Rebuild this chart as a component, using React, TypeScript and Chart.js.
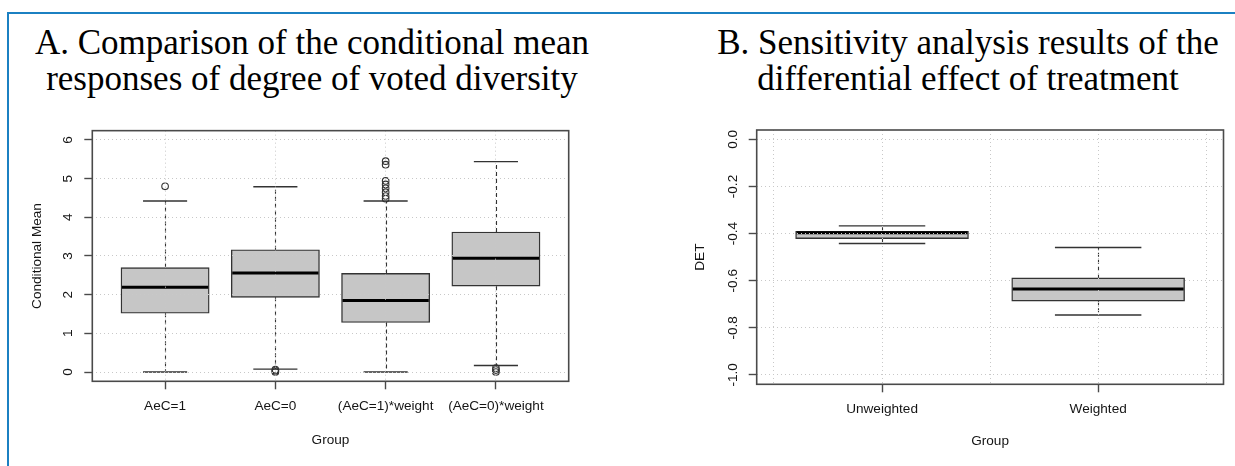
import React, { useEffect, useRef } from 'react';
import { Chart, registerables } from 'chart.js';

Chart.register(...registerables);

const SANS = '"Liberation Sans", Arial, Helvetica, sans-serif';
const SERIF = '"Liberation Serif", "Times New Roman", serif';

// ---------- Panel A: conditional mean responses ----------
const groupsA = ['AeC=1', 'AeC=0', '(AeC=1)*weight', '(AeC=0)*weight'];
const positionsA = [1, 2, 3, 4];
const lowerWhiskerA = [0.0, 0.075, 0.0, 0.17];
const q1A = [1.52, 1.93, 1.28, 2.22];
const medianA = [2.19, 2.56, 1.85, 2.94];
const q3A = [2.7, 3.16, 2.55, 3.62];
const upperWhiskerA = [4.42, 4.79, 4.42, 5.44];
const outliersA = [
  [4.8],
  [0.0, 0.03, 0.06],
  [4.48, 4.55, 4.65, 4.75, 4.85, 4.94, 5.36, 5.45],
  [0.0, 0.05, 0.1],
];
const yTicksA = [0, 1, 2, 3, 4, 5, 6];
const yRangeA = [-0.24, 6.24];
const xRangeA = [0.34, 4.66];

// ---------- Panel B: sensitivity analysis (DET) ----------
const groupsB = ['Unweighted', 'Weighted'];
const positionsB = [1, 2];
const lowerWhiskerB = [-0.442, -0.746];
const q1B = [-0.421, -0.687];
const medianB = [-0.396, -0.635];
const q3B = [-0.39, -0.588];
const upperWhiskerB = [-0.367, -0.459];
const outliersB: number[][] = [[], []];
const yTicksB = [0, -0.2, -0.4, -0.6, -0.8, -1.0];
const xGridB = [0.5, 1, 1.5, 2, 2.5];
const yRangeB = [-1.04, 0.04];
const xRangeB = [0.42, 2.58];

const BOXWEX = 0.8;
const STAPLE = 0.4;

type BoxSpec = {
  positions: number[];
  lo: number[];
  q1: number[];
  med: number[];
  q3: number[];
  hi: number[];
};

function boxPlugin(spec: BoxSpec) {
  return {
    id: 'boxExtras',
    beforeDatasetsDraw(chart: any) {
      const { ctx } = chart;
      const x = chart.scales.x;
      const y = chart.scales.y;
      ctx.save();
      spec.positions.forEach((p, i) => {
        const px = Math.round(x.getPixelForValue(p)) + 0.5;
        ctx.strokeStyle = '#333';
        ctx.lineWidth = 1.1;
        ctx.setLineDash([4, 3]);
        ctx.beginPath();
        ctx.moveTo(px, y.getPixelForValue(spec.q3[i]));
        ctx.lineTo(px, y.getPixelForValue(spec.hi[i]));
        ctx.moveTo(px, y.getPixelForValue(spec.q1[i]));
        ctx.lineTo(px, y.getPixelForValue(spec.lo[i]));
        ctx.stroke();
        ctx.setLineDash([]);
        const xl = x.getPixelForValue(p - STAPLE / 2);
        const xr = x.getPixelForValue(p + STAPLE / 2);
        ctx.lineWidth = 1.4;
        ctx.strokeStyle = '#333';
        ctx.beginPath();
        ctx.moveTo(xl, y.getPixelForValue(spec.hi[i]));
        ctx.lineTo(xr, y.getPixelForValue(spec.hi[i]));
        ctx.moveTo(xl, y.getPixelForValue(spec.lo[i]));
        ctx.lineTo(xr, y.getPixelForValue(spec.lo[i]));
        ctx.stroke();
      });
      ctx.restore();
    },
    afterDatasetsDraw(chart: any) {
      const { ctx } = chart;
      const x = chart.scales.x;
      const y = chart.scales.y;
      ctx.save();
      ctx.strokeStyle = '#000';
      ctx.lineWidth = 3;
      spec.positions.forEach((p, i) => {
        const xl = x.getPixelForValue(p - BOXWEX / 2) + 1;
        const xr = x.getPixelForValue(p + BOXWEX / 2) - 1;
        const py = y.getPixelForValue(spec.med[i]);
        ctx.beginPath();
        ctx.moveTo(xl, py);
        ctx.lineTo(xr, py);
        ctx.stroke();
      });
      ctx.restore();
    },
    afterDraw(chart: any) {
      const { ctx, chartArea } = chart;
      ctx.save();
      ctx.strokeStyle = '#4a4a4a';
      ctx.lineWidth = 1.6;
      ctx.strokeRect(
        chartArea.left,
        chartArea.top,
        chartArea.right - chartArea.left,
        chartArea.bottom - chartArea.top
      );
      ctx.restore();
    },
  };
}

function makeConfig(opts: {
  positions: number[];
  labels: string[];
  lo: number[];
  q1: number[];
  med: number[];
  q3: number[];
  hi: number[];
  outliers: number[][];
  xRange: number[];
  yRange: number[];
  xTicks: number[];
  yTicks: number[];
  yFormat: (v: number) => string;
  yTitle: string;
  padding: { left: number; top: number; right: number; bottom: number };
  xHeight: number;
  yWidth: number;
  yTickPad: number;
  yTitlePad: number;
  xTitlePad: number;
}) {
  const tickFont = { family: SANS, size: 13.6 };
  const textColor = '#151515';
  const gridBase = {
    color: '#c8c8c8',
    lineWidth: 1,
    offset: false,
    drawTicks: true,
    tickLength: 8,
    tickWidth: 1.4,
    tickBorderDash: [],
    z: 1,
  };
  return {
    type: 'bar',
    data: {
      datasets: [
        {
          type: 'bar',
          data: opts.positions.map((p, i) => ({ x: p, y: [opts.q1[i], opts.q3[i]] })),
          backgroundColor: '#c6c6c6',
          borderColor: '#333',
          borderWidth: 1.4,
          borderSkipped: false,
          barThickness: 'flex',
          barPercentage: BOXWEX,
          categoryPercentage: 1,
        },
        {
          type: 'scatter',
          data: opts.outliers.flatMap((arr, i) => arr.map((v) => ({ x: opts.positions[i], y: v }))),
          pointStyle: 'circle',
          pointRadius: 3.3,
          pointBackgroundColor: 'rgba(0,0,0,0)',
          pointBorderColor: '#333',
          pointBorderWidth: 1.1,
        },
      ],
    },
    options: {
      responsive: false,
      animation: false,
      events: [],
      layout: { padding: opts.padding },
      plugins: {
        legend: { display: false },
        tooltip: { enabled: false },
        title: { display: false },
      },
      scales: {
        x: {
          type: 'linear',
          offset: false,
          min: opts.xRange[0],
          max: opts.xRange[1],
          afterBuildTicks: (s: any) => {
            s.ticks = opts.xTicks.map((v) => ({ value: v }));
          },
          afterFit: (s: any) => {
            s.height = opts.xHeight;
          },
          ticks: {
            autoSkip: false,
            maxRotation: 0,
            minRotation: 0,
            padding: 9,
            color: textColor,
            font: tickFont,
            callback: (v: number) => {
              const k = opts.positions.indexOf(v);
              return k >= 0 ? opts.labels[k] : '';
            },
          },
          grid: {
            ...gridBase,
            tickColor: (c: any) =>
              c.tick && opts.positions.indexOf(c.tick.value) >= 0 ? '#4a4a4a' : 'rgba(0,0,0,0)',
          },
          border: { display: false, dash: [1, 3] },
          title: {
            display: true,
            text: 'Group',
            color: textColor,
            font: tickFont,
            padding: { top: 0, bottom: opts.xTitlePad },
          },
        },
        y: {
          type: 'linear',
          min: opts.yRange[0],
          max: opts.yRange[1],
          afterBuildTicks: (s: any) => {
            s.ticks = opts.yTicks.map((v) => ({ value: v }));
          },
          afterFit: (s: any) => {
            s.width = opts.yWidth;
          },
          ticks: {
            autoSkip: false,
            minRotation: 90,
            maxRotation: 90,
            crossAlign: 'center',
            padding: opts.yTickPad,
            color: textColor,
            font: tickFont,
            callback: (v: number) => opts.yFormat(v),
          },
          grid: { ...gridBase, tickColor: '#4a4a4a' },
          border: { display: false, dash: [1, 3] },
          title: {
            display: true,
            text: opts.yTitle,
            color: textColor,
            font: tickFont,
            padding: { top: opts.yTitlePad, bottom: 0 },
          },
        },
      },
    },
    plugins: [
      boxPlugin({
        positions: opts.positions,
        lo: opts.lo,
        q1: opts.q1,
        med: opts.med,
        q3: opts.q3,
        hi: opts.hi,
      }),
    ],
  };
}

function ChartCanvas(props: { config: any; left: number; top: number; width: number; height: number }) {
  const ref = useRef<HTMLCanvasElement | null>(null);
  useEffect(() => {
    if (!ref.current) return;
    const chart = new Chart(ref.current, props.config);
    return () => chart.destroy();
  }, []);
  return (
    <canvas
      ref={ref}
      width={props.width}
      height={props.height}
      style={{
        position: 'absolute',
        left: props.left,
        top: props.top,
        width: props.width,
        height: props.height,
      }}
    />
  );
}

export default function App() {
  const configA = makeConfig({
    positions: positionsA,
    labels: groupsA,
    lo: lowerWhiskerA,
    q1: q1A,
    med: medianA,
    q3: q3A,
    hi: upperWhiskerA,
    outliers: outliersA,
    xRange: xRangeA,
    yRange: yRangeA,
    xTicks: positionsA,
    yTicks: yTicksA,
    yFormat: (v) => String(v),
    yTitle: 'Conditional Mean',
    padding: { left: 0, top: 11, right: 51.3, bottom: 0 },
    xHeight: 84.7,
    yWidth: 92.3,
    yTickPad: 12.5,
    yTitlePad: 28.9,
    xTitlePad: 17.9,
  });
  const configB = makeConfig({
    positions: positionsB,
    labels: groupsB,
    lo: lowerWhiskerB,
    q1: q1B,
    med: medianB,
    q3: q3B,
    hi: upperWhiskerB,
    outliers: outliersB,
    xRange: xRangeB,
    yRange: yRangeB,
    xTicks: xGridB,
    yTicks: yTicksB,
    yFormat: (v) => v.toFixed(1),
    yTitle: 'DET',
    padding: { left: 0, top: 20, right: 11.5, bottom: 0 },
    xHeight: 81.7,
    yWidth: 136.7,
    yTickPad: 4.1,
    yTitlePad: 71.9,
    xTitlePad: 16.2,
  });

  const titleStyle: React.CSSProperties = {
    position: 'absolute',
    top: 25,
    width: 600,
    fontFamily: SERIF,
    fontSize: 35,
    lineHeight: '36px',
    textAlign: 'center',
    color: '#000',
    whiteSpace: 'nowrap',
  };

  return (
    <div
      style={{
        position: 'absolute',
        left: 0,
        top: 0,
        width: 1235,
        height: 466,
        background: '#fff',
        overflow: 'hidden',
      }}
    >
      <div
        style={{
          position: 'absolute',
          left: 7,
          top: 12,
          width: 1400,
          height: 600,
          borderTop: '2px solid #1b80c2',
          borderLeft: '2px solid #1b80c2',
        }}
      />
      <div style={{ ...titleStyle, left: 12 }}>
        A. Comparison of the conditional mean
        <br />
        responses of degree of voted diversity
      </div>
      <div style={{ ...titleStyle, left: 668 }}>
        B. Sensitivity analysis results of the
        <br />
        differential effect of treatment
      </div>
      <ChartCanvas config={configA} left={0} top={110} width={620} height={356} />
      <ChartCanvas config={configB} left={620} top={110} width={615} height={356} />
    </div>
  );
}
